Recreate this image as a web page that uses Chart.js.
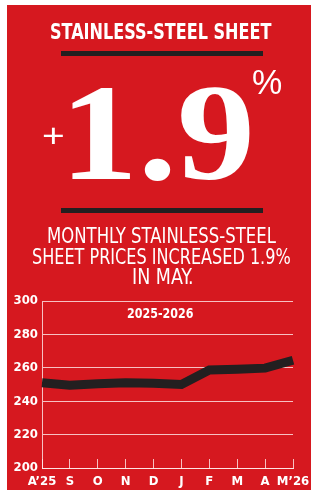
<!DOCTYPE html>
<html>
<head>
<meta charset="utf-8">
<script src="https://cdn.jsdelivr.net/npm/chart.js@4.4.1/dist/chart.umd.min.js"></script>
<style>
  html, body { margin:0; padding:0; background:#fff; }
  #wrap { position:relative; width:311px; height:493px; overflow:hidden; background:#fff; }
  #bg { position:absolute; left:7px; top:5px; width:304px; height:485px; background:#d6181f; }
  .t { position:absolute; white-space:nowrap; color:#fff; transform-origin:0 0; margin:0; padding:0; }
  .rule { position:absolute; background:#231f20; }
  #c { position:absolute; left:0; top:0; }
</style>
</head>
<body>
<div id="wrap">
  <div id="bg"></div>
  <div class="rule" style="left:61px;top:51px;width:202px;height:5px"></div>
  <div class="rule" style="left:61px;top:208px;width:202px;height:5px"></div>
  <canvas id="c" width="311" height="493" style="width:311px;height:493px"></canvas>
</div>
<script>
// ---- data ----
const categories = ["A\u201925", "S", "O", "N", "D", "J", "F", "M", "A", "M\u201926"];
const priceIndex = [251, 249.5, 250.5, 251, 250.8, 250, 258.7, 259.2, 259.8, 264.5];
const yTicks = [200, 220, 240, 260, 280, 300];
const titleText = "STAINLESS-STEEL SHEET";
const bigSign = "+";
const bigValue = "1.9";
const bigUnit = "%";
const bodyLines = ["MONTHLY STAINLESS-STEEL", "SHEET PRICES INCREASED 1.9%", "IN MAY."];
const periodText = "2025-2026";

// ---- text placement helpers ----
const COND = "'Liberation Sans Narrow','DejaVu Sans Condensed','Arial Narrow',sans-serif";
const SANS = "'Liberation Sans','Noto Sans',sans-serif";
const SERIF = "'Liberation Serif','DejaVu Serif',serif";
const mctx = document.createElement('canvas').getContext('2d');

function place(text, o) {
  const el = document.createElement('div');
  el.className = 't';
  el.textContent = text;
  const vref = o.vref || text;
  mctx.font = `${o.weight} 100px ${o.family}`;
  const mv = mctx.measureText(vref);
  const inkH = mv.actualBoundingBoxAscent + mv.actualBoundingBoxDescent;
  const size = 100 * (o.bottom - o.top) / inkH;
  const font = `${o.weight} ${size}px ${o.family}`;
  mctx.font = font;
  const m = mctx.measureText(text);
  const mv2 = mctx.measureText(vref);
  const inkW = m.actualBoundingBoxLeft + m.actualBoundingBoxRight;
  const sx = (o.right - o.left) / inkW;
  const asc = m.fontBoundingBoxAscent, desc = m.fontBoundingBoxDescent;
  const baseline = o.top + mv2.actualBoundingBoxAscent;
  el.style.font = font;
  el.style.lineHeight = (asc + desc) + 'px';
  el.style.height = (asc + desc) + 'px';
  el.style.top = (baseline - asc) + 'px';
  el.style.left = (o.left + m.actualBoundingBoxLeft * sx) + 'px';
  el.style.transform = `scaleX(${sx})`;
  document.getElementById('wrap').appendChild(el);
}

place(titleText, {family: COND, weight: 'bold', left: 50.7, right: 271.7, top: 23.3, bottom: 39.3, vref: 'H'});
place(bigSign, {family: SANS, weight: 'normal', left: 42.7, right: 63.3, top: 127, bottom: 144});
place(bigValue, {family: SERIF, weight: 'bold', left: 71.7, right: 250, top: 86.7, bottom: 180});
place(bigUnit, {family: SANS, weight: 'normal', left: 252.7, right: 281.7, top: 70, bottom: 95});
place(bodyLines[0], {family: COND, weight: 'normal', left: 48, right: 276, top: 227.3, bottom: 243.3, vref: 'H'});
place(bodyLines[1], {family: COND, weight: 'normal', left: 32.7, right: 290, top: 247.5, bottom: 263.5, vref: 'H'});
place(bodyLines[2], {family: COND, weight: 'normal', left: 133, right: 193, top: 267.5, bottom: 283.5, vref: 'H'});
place(periodText, {family: COND, weight: 'bold', left: 126.7, right: 192.7, top: 308.3, bottom: 318.5});

// ---- chart ----
const GRID = 'rgba(255,235,235,0.8)';
const tickFont = {family: COND, weight: 'bold', size: 13};

new Chart(document.getElementById('c'), {
  type: 'line',
  data: {
    labels: categories,
    datasets: [{
      data: priceIndex,
      borderColor: '#231f20',
      borderWidth: 9,
      pointRadius: 0,
      pointHoverRadius: 0,
      tension: 0,
      fill: false,
      borderCapStyle: 'butt',
      borderJoinStyle: 'miter'
    }]
  },
  options: {
    responsive: false,
    animation: false,
    devicePixelRatio: 1,
    events: [],
    layout: {padding: {left: 0, right: 18, top: 301, bottom: 0}},
    plugins: {legend: {display: false}, tooltip: {enabled: false}, title: {display: false}},
    scales: {
      x: {
        offset: false,
        grid: {display: true, drawOnChartArea: false, drawTicks: true, tickLength: -9, color: GRID, lineWidth: 1},
        border: {display: true, color: GRID, width: 1},
        ticks: {color: '#fff', font: tickFont, padding: 15, maxRotation: 0, minRotation: 0, autoSkip: false},
        afterFit(s) { s.height = 25; s.paddingLeft = 0; s.paddingRight = 0; }
      },
      y: {
        min: yTicks[0],
        max: yTicks[yTicks.length - 1],
        afterBuildTicks(s) { s.ticks = yTicks.map(v => ({value: v})); },
        grid: {color: GRID, drawTicks: false, lineWidth: 1},
        border: {display: true, color: GRID, width: 1},
        ticks: {color: '#fff', font: tickFont, padding: 4},
        afterFit(s) { s.width = 42; s.paddingTop = 0; s.paddingBottom = 0; }
      }
    }
  }
});
</script>
</body>
</html>
